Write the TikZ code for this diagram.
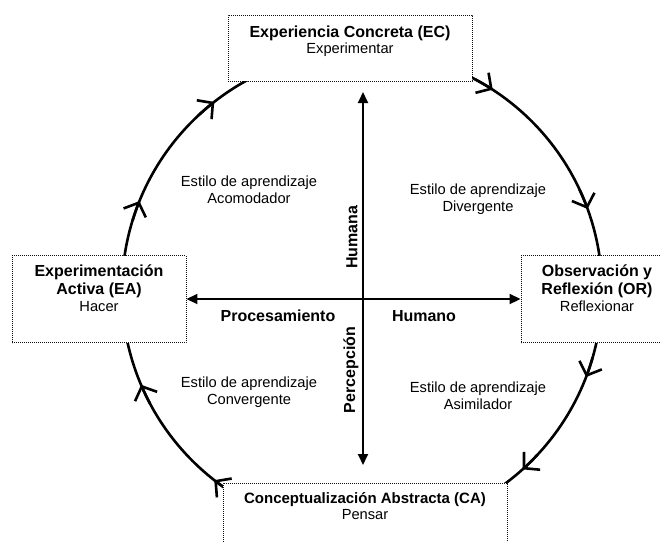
\documentclass[tikz,border=0pt]{standalone}
\usepackage{fontspec}
\setmainfont{Liberation Sans}
\usepackage{tkz-euclide}
\usetikzlibrary{arrows.meta,calc}
\definecolor{BordeClr}{rgb}{0.05,0.05,0.05}
\newcommand{\fino}{\mdseries\fontsize{14.67}{16.5}\selectfont}

\begin{document}
\begin{tikzpicture}[x=1pt,y=-1pt,
  ciclo/.style={line width=2.6pt},
  marca/.style={ciclo,-{Straight Barb[length=11pt,width=24pt]}},
  eje/.style={line width=1.8pt,>={Triangle[length=11pt,width=10pt]},<->},
  caja/.style={draw=BordeClr,line width=0.9pt,dash pattern=on 0.9pt off 1.1pt,fill=white,inner sep=0pt},
  titulo/.style={anchor=north,align=center,inner sep=0pt,font=\fontsize{16}{16.5}\selectfont\bfseries},
  estilo/.style={align=center,inner sep=0pt,font=\fontsize{14.67}{17}\selectfont},
  rotulo/.style={inner sep=0pt,font=\fontsize{16}{16}\selectfont\bfseries}]
\useasboundingbox (0,0) rectangle (660,541);
\clip (0,0) rectangle (660,541);

\tkzDefPoints{362/291/O,363/92/N,363/465/S}

% ciclo de Kolb
\draw[ciclo] (O) circle[radius=240];
\foreach \a [evaluate=\a as \b using \a-5] in {-158,-128,-57,-20,21,48,128,157}
  \draw[marca] ($(O)+(\b:240)$) arc[start angle=\b,end angle=\a,radius=240];

% cajas
\node[caja,minimum width=244pt,minimum height=66pt] (ec) at (350,48) {};
\node[caja,minimum width=174pt,minimum height=87pt] (ea) at (99,299) {};
\node[caja,minimum width=152pt,minimum height=87pt] (or) at (597,299) {};
\node[caja,minimum width=284pt,minimum height=88pt] (ca) at (365,527) {};

\node[titulo] (ectxt) at ([yshift=-11pt]ec.north) {\strut Experiencia Concreta (EC)\\\fino Experimentar};
\node[titulo] (eatxt) at ([yshift=-10pt]ea.north) {\strut Experimentación\\Activa (EA)\\\fino Hacer};
\node[titulo] (ortxt) at ([yshift=-10pt]or.north) {\strut Observación y\\Reflexión (OR)\\\fino Reflexionar};
\node[titulo,font=\fontsize{15}{16.5}\selectfont\bfseries] (catxt) at ([yshift=-9pt]ca.north) {\strut Conceptualización Abstracta (CA)\\\fino Pensar};

% ejes
\draw[eje] (ea) -- (or);
\draw[eje] (N) -- (S);

\node[rotulo] (proc) at (278,316) {Procesamiento};
\node[rotulo] (hno) at (424,316) {Humano};
\node[rotulo,rotate=90] (hna) at (352,237) {Humana};
\node[rotulo,rotate=90] (perc) at (351,370) {Percepción};

% estilos de aprendizaje
\node[estilo] (acom) at (249,190) {Estilo de aprendizaje\\Acomodador};
\node[estilo] (div) at (478,199) {Estilo de aprendizaje\\Divergente};
\node[estilo] (conv) at (249,392) {Estilo de aprendizaje\\Convergente};
\node[estilo] (asim) at (478,396) {Estilo de aprendizaje\\Asimilador};

\end{tikzpicture}
\end{document}
